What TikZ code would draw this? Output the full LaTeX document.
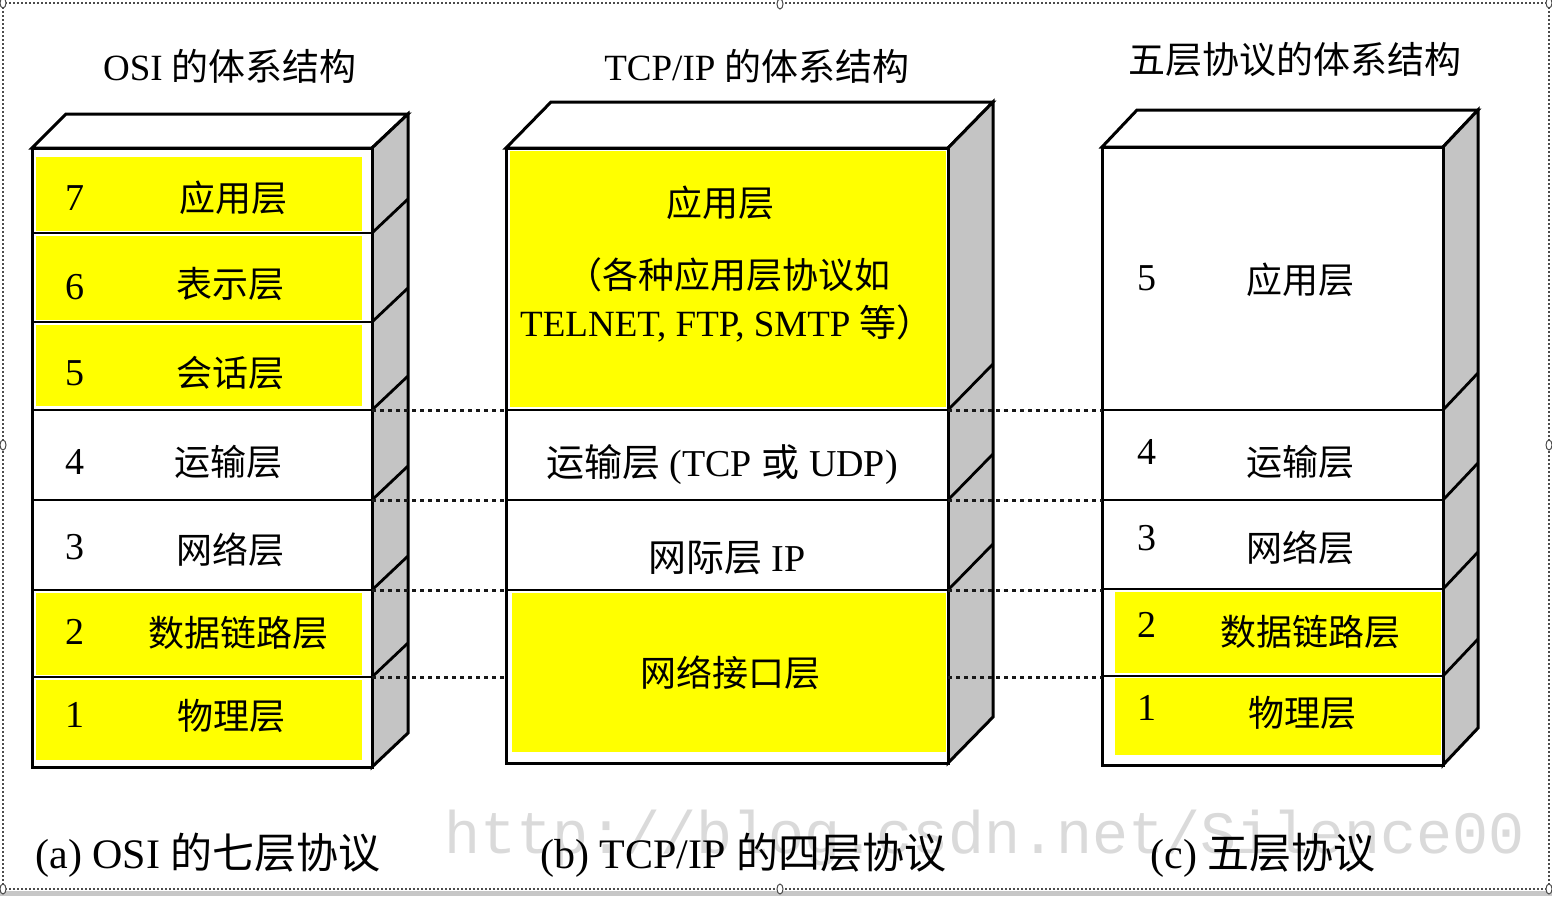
\documentclass[tikz,border=0pt]{standalone}
\usepackage{fontspec}
\setmainfont{Liberation Serif}
\newfontfamily\cjk{Noto Sans CJK SC}
\newfontfamily\wmfont{Liberation Mono}
\definecolor{layeryellow}{HTML}{FFFF00}
\definecolor{sidegray}{HTML}{C4C4C4}
\definecolor{wmgray}{HTML}{DADADA}
\tikzset{
  px/.style={x=0.5pt,y=-0.5pt},
  edge/.style={draw=black,line width=1.5pt,line join=miter},
  divider/.style={draw=black,line width=1.4pt},
  diag/.style={draw=black,line width=1.4pt},
  linkline/.style={draw=black!90,line width=1.5pt,dash pattern=on 2pt off 2pt},
  lbl/.style={inner sep=0pt,font=\fontsize{18}{20}\selectfont\cjk},
  num/.style={inner sep=0pt,font=\fontsize{19}{20}\selectfont},
  ttl/.style={inner sep=0pt,font=\fontsize{18.5}{20}\selectfont},
  captext/.style={inner sep=0pt,anchor=west,font=\fontsize{21}{24}\selectfont},
}
\begin{document}
\begin{tikzpicture}[px]
\useasboundingbox (0,0) rectangle (1552,896);
\fill[white] (0,0) rectangle (1552,896);
% screenshot selection frame
\fill[black!22] (0,891) rectangle (1552,896);
\draw[black!70,line width=0.6pt,dash pattern=on 1pt off 1pt] (3,3) rectangle (1549,889);
\foreach \hx/\hy in {3/3,780/4,1549/3,3/445,1549/445,3/889,780/889,1549/889}
  \draw[black!70,line width=0.5pt,fill=white] (\hx,\hy) ellipse (3 and 5);

% watermark
\node[anchor=west,inner sep=0pt,text=wmgray,font=\fontsize{30}{32}\selectfont\wmfont] (wm) at (444,838) {http://blog.csdn.net/Silence00};

% ---------- Box A: OSI ----------
\path[edge,fill=white] (32,148) -- (66,114) -- (408,114) -- (372,148) -- cycle;
\path[edge,fill=sidegray] (372,148) -- (408,114) -- (408,733) -- (372,767) -- cycle;
\path[fill=white] (32,148) rectangle (372,767);
\fill[layeryellow] (36,157) rectangle (362,231);
\fill[layeryellow] (36,236) rectangle (362,320);
\fill[layeryellow] (36,325) rectangle (362,406);
\fill[layeryellow] (36,593) rectangle (362,675);
\fill[layeryellow] (36,680) rectangle (362,760);
\draw[edge] (32,148) rectangle (372,767);
\foreach \y in {233,322,410,500,590,677} {
  \draw[divider] (32,\y) -- (372,\y);
  \draw[diag] (372,\y) -- (408,\y-34);
}

% ---------- Box B: TCP/IP ----------
\path[edge,fill=white] (506,148) -- (551,102) -- (993,102) -- (948,148) -- cycle;
\path[edge,fill=sidegray] (948,148) -- (993,102) -- (993,717) -- (948,763) -- cycle;
\path[fill=white] (506,148) rectangle (948,763);
\fill[layeryellow] (510,151) rectangle (946,407);
\fill[layeryellow] (512,593) rectangle (946,752);
\draw[edge] (506,148) rectangle (948,763);
\foreach \y in {410,500,590} {
  \draw[divider] (506,\y) -- (948,\y);
  \draw[diag] (948,\y) -- (993,\y-46);
}

% ---------- Box C: five layers ----------
\path[edge,fill=white] (1102,147) -- (1137,110) -- (1478,110) -- (1443,147) -- cycle;
\path[edge,fill=sidegray] (1443,147) -- (1478,110) -- (1478,728) -- (1443,765) -- cycle;
\path[fill=white] (1102,147) rectangle (1443,765);
\fill[layeryellow] (1115,592) rectangle (1441,673);
\fill[layeryellow] (1115,678) rectangle (1441,755);
\draw[edge] (1102,147) rectangle (1443,765);
\foreach \y in {410,500,589,676} {
  \draw[divider] (1102,\y) -- (1443,\y);
  \draw[diag] (1443,\y) -- (1478,\y-37);
}

% ---------- dashed links between boxes ----------
\foreach \y in {410,500,590,677} {
  \coordinate (aR\y) at (372,\y);
  \coordinate (bL\y) at (506,\y);
  \coordinate (bR\y) at (948,\y);
  \coordinate (cL\y) at (1102,\y);
}
\foreach \y in {410,500,590,677} {
  \draw[linkline] (aR\y) -- (bL\y);
  \draw[linkline] (bR\y) -- (cL\y);
}

% ---------- titles ----------
\node[ttl] (tA) at (230,66) {OSI {\cjk 的体系结构}};
\node[ttl] (tB) at (757,66) {TCP/IP {\cjk 的体系结构}};
\node[ttl] (tC) at (1295,60) {\cjk 五层协议的体系结构};

% ---------- labels box A ----------
\node[num] (a7n) at (75,198) {7};  \node[lbl] (a7) at (233,198) {应用层};
\node[num] (a6n) at (75,287) {6};  \node[lbl] (a6) at (230,284) {表示层};
\node[num] (a5n) at (75,373) {5};  \node[lbl] (a5) at (230,373) {会话层};
\node[num] (a4n) at (75,462) {4};  \node[lbl] (a4) at (228,462) {运输层};
\node[num] (a3n) at (75,547) {3};  \node[lbl] (a3) at (230,550) {网络层};
\node[num] (a2n) at (75,632) {2};  \node[lbl] (a2) at (238,633) {数据链路层};
\node[num] (a1n) at (75,715) {1};  \node[lbl] (a1) at (231,716) {物理层};

% ---------- labels box B ----------
\node[lbl] (bapp) at (720,203) {应用层};
\node[lbl] (bapp2) at (728,275) {（各种应用层协议如};
\node[num,font=\fontsize{18.5}{20}\selectfont] (bapp3) at (727,323) {TELNET, FTP, SMTP {\cjk 等）}};
\node[num] (btr) at (722,465) {{\cjk 运输层} (TCP {\cjk 或} UDP)};
\node[num] (bip) at (727,558) {{\cjk 网际层} IP};
\node[lbl] (bni) at (730,673) {网络接口层};

% ---------- labels box C ----------
\node[num] (c5n) at (1147,278) {5};  \node[lbl] (c5) at (1300,280) {应用层};
\node[num] (c4n) at (1147,452) {4};  \node[lbl] (c4) at (1300,462) {运输层};
\node[num] (c3n) at (1147,538) {3};  \node[lbl] (c3) at (1300,548) {网络层};
\node[num] (c2n) at (1147,625) {2};  \node[lbl] (c2) at (1310,632) {数据链路层};
\node[num] (c1n) at (1147,708) {1};  \node[lbl] (c1) at (1302,713) {物理层};

% ---------- captions ----------
\node[captext] (capA) at (35,855) {(a) OSI {\cjk 的七层协议}};
\node[captext] (capB) at (540,855) {(b) TCP/IP {\cjk 的四层协议}};
\node[captext] (capC) at (1150,855) {(c) {\cjk 五层协议}};
\end{tikzpicture}
\end{document}
